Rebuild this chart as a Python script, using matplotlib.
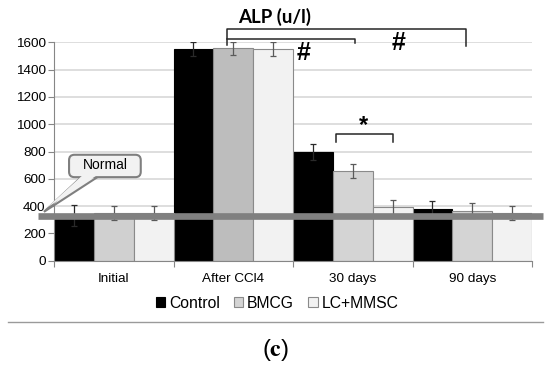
import matplotlib
matplotlib.use("Agg")
import matplotlib.pyplot as plt
import matplotlib.patches as mpatches
from matplotlib.lines import Line2D
import numpy as np

# data (ALP, u/l)
categories = ["Initial", "After CCl4", "30 days", "90 days"]
groups = ["Control", "BMCG", "LC+MMSC"]
control = [330, 1550, 795, 380]
control_err = [75, 50, 58, 55]
bmcg = [350, 1555, 655, 365]
bmcg_err = [50, 48, 52, 55]
lc_mmsc = [350, 1550, 390, 350]
lc_mmsc_err = [50, 50, 52, 50]
normal_level = 328

yticks = [0, 200, 400, 600, 800, 1000, 1200, 1400, 1600]

plt.rcParams["font.family"] = ["Liberation Sans", "DejaVu Sans"]
plt.rcParams["mathtext.fontset"] = "stix"

fig = plt.figure(figsize=(5.5, 3.65), dpi=100)
ax = fig.add_axes([54 / 550, 1 - 260.7 / 365, 478 / 550, 218.4 / 365])

x = np.arange(len(categories))
w = 1 / 3
bmcg_colors = ["#d0d0d0", "#bdbdbd", "#d4d4d4", "#d4d4d4"]
series = [
    (control, control_err, "#000000", "#000000", "#2a2a2a"),
    (bmcg, bmcg_err, bmcg_colors, "#8a8a8a", "#5a5a5a"),
    (lc_mmsc, lc_mmsc_err, "#f2f2f2", "#8a8a8a", "#5a5a5a"),
]
for i, (vals, errs, fc, ec, errc) in enumerate(series):
    ax.bar(x + (i - 1) * w, vals, w, color=fc, edgecolor=ec, linewidth=0.8,
           label=groups[i], zorder=2)
    ax.errorbar(x + (i - 1) * w, vals, yerr=errs, fmt="none", ecolor=errc,
                elinewidth=0.9, capsize=2.3, capthick=0.9, zorder=3)

ax.set_xlim(-0.5, 3.5)
ax.set_ylim(0, 1600)
ax.set_yticks(yticks)
ax.tick_params(axis="y", labelsize=9.7, length=4, color="#868686", pad=2)
ax.set_xticks(np.arange(-0.5, 4, 1))
ax.set_xticklabels([])
ax.set_xticks(x, minor=True)
ax.set_xticklabels(categories, minor=True, fontsize=9.7)
ax.tick_params(axis="x", which="major", length=4, color="#868686")
ax.tick_params(axis="x", which="minor", length=0, pad=9)
ax.grid(True, axis="y", color="#d4d4d4", linewidth=1.1, zorder=0)
ax.set_axisbelow(True)
for s in ["top", "right"]:
    ax.spines[s].set_visible(False)
for s in ["left", "bottom"]:
    ax.spines[s].set_color("#868686")

# "normal" band across the chart
ax.plot([-0.634, 3.59], [normal_level, normal_level], color="#808080",
        linewidth=4.8, solid_capstyle="butt", clip_on=False, zorder=5)

# callout "Normal"
aspect = 119.5 / 0.13625
wedge_kw = dict(closed=True, facecolor="#f2f2f2", zorder=6, clip_on=False)
ax.add_patch(mpatches.Polygon([(-0.269, 615), (-0.132, 615), (-0.584, normal_level + 30)],
                              edgecolor="#7f7f7f", linewidth=1.5, **wedge_kw))
ax.add_patch(mpatches.FancyBboxPatch((-0.374, 612), 0.6, 164,
                                     boxstyle="round,pad=0,rounding_size=0.045",
                                     mutation_aspect=aspect, facecolor="#f2f2f2",
                                     edgecolor="#7f7f7f", linewidth=1.5,
                                     zorder=7, clip_on=False))
ax.add_patch(mpatches.Polygon([(-0.262, 625), (-0.142, 625), (-0.56, normal_level + 60)],
                              edgecolor="none", **dict(wedge_kw, zorder=8)))
ax.text(-0.074, 700, "Normal", ha="center", va="center", fontsize=10, zorder=9)

# significance brackets
bk = dict(color="#262626", linewidth=1.1, clip_on=False, zorder=6)
ax.plot([0.95, 0.95, 2.95, 2.95], [1583, 1700, 1700, 1576], **bk)
ax.plot([0.95, 2.02, 2.02], [1625, 1625, 1598], **bk)
ax.plot([1.857, 1.857, 2.334, 2.334], [873, 928, 928, 873], **bk)
ax.text(1.59, 1524, "#", ha="center", va="center", fontsize=18, fontweight="bold")
ax.text(2.38, 1598, "#", ha="center", va="center", fontsize=18, fontweight="bold",
        clip_on=False)
ax.text(2.094, 990, "*", ha="center", va="center", fontsize=17, fontweight="bold")

ax.text(1.35, 1789, "ALP (u/l)", ha="center", va="center", fontsize=13.5,
        fontweight="bold", family="Lato", clip_on=False)

leg = ax.legend(loc="center", bbox_to_anchor=(277 / 550, 1 - 303 / 365),
                bbox_transform=fig.transFigure, ncol=3, frameon=False,
                fontsize=11.3, handlelength=0.6, handleheight=0.6,
                handletextpad=0.25, columnspacing=0.9, borderpad=0)
leg.legend_handles[1].set_facecolor("#d4d4d4")

fig.add_artist(Line2D([8 / 550, 543 / 550], [1 - 322 / 365, 1 - 322 / 365],
                      color="#9a9a9a", linewidth=1.0))
fig.text(275 / 550, 1 - 350 / 365, r"($\mathbf{c}$)", ha="center", va="center",
         fontsize=17)

fig.savefig("out.png", dpi=100)
